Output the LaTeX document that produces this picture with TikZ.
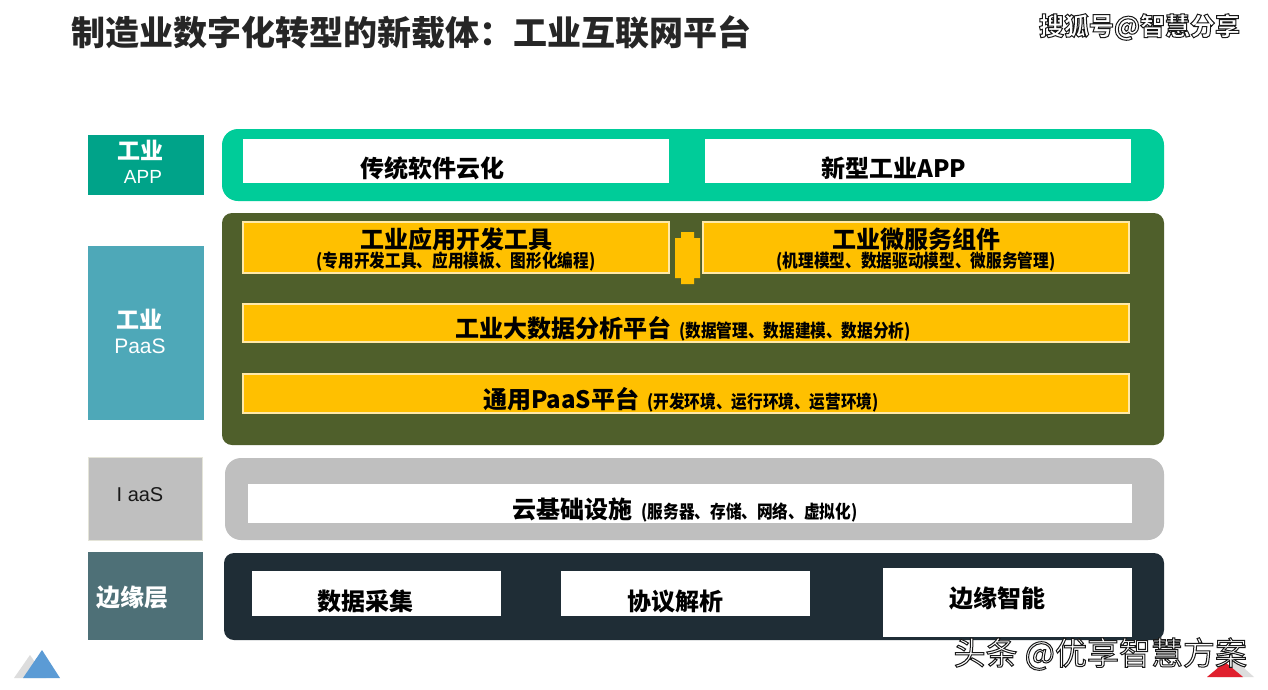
\documentclass[tikz,border=0pt]{standalone}
\usepackage{fontspec}
\setmainfont{Noto Sans CJK SC}
\newfontfamily\cjkcond{Noto Sans CJK SC}[FakeStretch=0.87]
\newfontfamily\latfont{Liberation Sans}
\definecolor{appdark}{HTML}{00A389}
\definecolor{appgreen}{HTML}{00CC99}
\definecolor{paaslbl}{HTML}{4EA8B8}
\definecolor{paaspanel}{HTML}{4F5F2B}
\definecolor{yel}{HTML}{FFC000}
\definecolor{yelline}{HTML}{FFE9A8}
\definecolor{iaasgray}{HTML}{BFBFBF}
\definecolor{iaasline}{HTML}{E4E4D8}
\definecolor{edgelbl}{HTML}{4E7077}
\definecolor{edgepanel}{HTML}{1F2D36}
\definecolor{titlecol}{HTML}{262626}
\definecolor{triblue}{HTML}{5B9BD5}
\definecolor{trigray}{HTML}{DDDDDD}
\definecolor{trired}{HTML}{E0202E}
\newcommand\hdfont{\fontsize{24pt}{24pt}\selectfont\bfseries}
\newcommand\subfont{\cjkcond\fontsize{18pt}{18pt}\selectfont\bfseries}
\newcommand\halotext[1]{\special{pdf:literal direct 2 Tr 1.0 w 0.1 0.1 0.1 RG}#1\special{pdf:literal direct 0 Tr 0.4 w 0 0 0 RG}}
\begin{document}
\begin{tikzpicture}[x=1pt,y=-1pt,
  blk/.style={inner sep=0pt, outer sep=0pt, anchor=north west, draw=none},
  ybox/.style={blk, fill=yel, draw=yelline, line width=1.2pt},
  wbox/.style={blk, fill=white},
  txt/.style={inner sep=0pt, outer sep=0pt, anchor=center, text=black},
  wtxt/.style={txt, text=white}]
\useasboundingbox (0,0) rectangle (1268,689);
\fill[white] (0,0) rectangle (1268,689);

% title and watermark
\node[txt, anchor=west, text=titlecol] (title) at (71,32) {\fontsize{34pt}{34pt}\selectfont\bfseries 制造业数字化转型的新载体：工业互联网平台};
\node[txt, anchor=east, text=white] (wm1) at (1240,27) {\fontsize{25pt}{25pt}\selectfont\bfseries\halotext{搜狐号@智慧分享}};

% left labels
\node[blk, fill=appdark, minimum width=116pt, minimum height=60pt] (lApp) at (88,135) {};
\node[wtxt] (lAppA) at (140,150) {\fontsize{23pt}{23pt}\selectfont\bfseries 工业};
\node[wtxt] (lAppB) at (143,177) {\latfont\fontsize{19pt}{19pt}\selectfont APP};

\node[blk, fill=paaslbl, minimum width=116pt, minimum height=174pt] (lPaas) at (88,246) {};
\node[wtxt] (lPaasA) at (139,319) {\fontsize{23pt}{23pt}\selectfont\bfseries 工业};
\node[wtxt] (lPaasB) at (140,346) {\latfont\fontsize{21pt}{21pt}\selectfont PaaS};

\node[blk, fill=iaasgray, draw=iaasline, line width=1pt, minimum width=114pt, minimum height=83pt] (lIaas) at (88,457) {};
\node[txt, text=black!90] (lIaasA) at (140,495) {\latfont\fontsize{20pt}{20pt}\selectfont I aaS};

\node[blk, fill=edgelbl, minimum width=115pt, minimum height=88pt] (lEdge) at (88,552) {};
\node[wtxt] (lEdgeA) at (132,597) {\fontsize{24pt}{24pt}\selectfont\bfseries 边缘层};

% APP panel
\node[blk, fill=appgreen, rounded corners=16pt, minimum width=942pt, minimum height=72pt] (pApp) at (222,129) {};
\node[wbox, minimum width=426pt, minimum height=44pt] (wA1) at (243,139) {};
\node[wbox, minimum width=426pt, minimum height=44pt] (wA2) at (705,139) {};
\node[txt] (tA1) at (432,168) {\hdfont 传统软件云化};
\node[txt] (tA2) at (894,168) {\hdfont 新型工业APP};

% PaaS panel
\node[blk, fill=paaspanel, rounded corners=10pt, minimum width=942pt, minimum height=232pt] (pPaas) at (222,213) {};
\node[ybox, minimum width=426pt, minimum height=51pt] (y1) at (243,222) {};
\node[ybox, minimum width=426pt, minimum height=51pt] (y2) at (703,222) {};
\fill[yel] (681,232) -- (694,232) -- (694,238) -- (700,238) -- (700,278) -- (694,278)
  -- (694,284) -- (681,284) -- (681,278) -- (675,278) -- (675,238) -- (681,238) -- cycle;
\node[txt] (t1a) at (456,239) {\hdfont 工业应用开发工具};
\node[txt] (t1b) at (456,262) {\subfont (专用开发工具、应用模板、图形化编程)};
\node[txt] (t2a) at (916,239) {\hdfont 工业微服务组件};
\node[txt] (t2b) at (916,262) {\subfont (机理模型、数据驱动模型、微服务管理)};

\node[ybox, minimum width=886pt, minimum height=38pt] (y3) at (243,304) {};
\node[txt] (t3) at (683,329) {\hdfont 工业大数据分析平台\hspace{8pt}\subfont (数据管理、数据建模、数据分析)};
\node[ybox, minimum width=886pt, minimum height=39pt] (y4) at (243,374) {};
\node[txt] (t4) at (681,400) {\hdfont 通用PaaS平台\hspace{8pt}\subfont (开发环境、运行环境、运营环境)};

% IaaS panel
\node[blk, fill=iaasgray, rounded corners=16pt, minimum width=939pt, minimum height=82pt] (pIaas) at (225,458) {};
\node[wbox, minimum width=884pt, minimum height=39pt] (wI) at (248,484) {};
\node[txt] (tI) at (685,510) {\hdfont 云基础设施\hspace{9pt}\subfont (服务器、存储、网络、虚拟化)};

% Edge panel
\node[blk, fill=edgepanel, rounded corners=10pt, minimum width=940pt, minimum height=87pt] (pEdge) at (224,553) {};
\node[wbox, minimum width=249pt, minimum height=45pt] (wE1) at (252,571) {};
\node[wbox, minimum width=249pt, minimum height=45pt] (wE2) at (561,571) {};
\node[wbox, minimum width=249pt, minimum height=69pt] (wE3) at (883,568) {};
\node[txt] (tE1) at (365,601) {\hdfont 数据采集};
\node[txt] (tE2) at (675,602) {\hdfont 协议解析};
\node[txt] (tE3) at (997,598) {\hdfont 边缘智能};

% corner triangles
\fill[trigray] (14,678) -- (30,655) -- (46,678) -- cycle;
\fill[triblue] (23,678) -- (42,650) -- (60,678) -- cycle;
\fill[trigray] (1217,677) -- (1235,660) -- (1254,677) -- cycle;
\fill[trired] (1207,677) -- (1225,662) -- (1243,677) -- cycle;

\node[txt, anchor=east, text=white] (wm2) at (1247,654) {\fontsize{32pt}{32pt}\selectfont\halotext{头条 @优享智慧方案}};
\end{tikzpicture}
\end{document}
